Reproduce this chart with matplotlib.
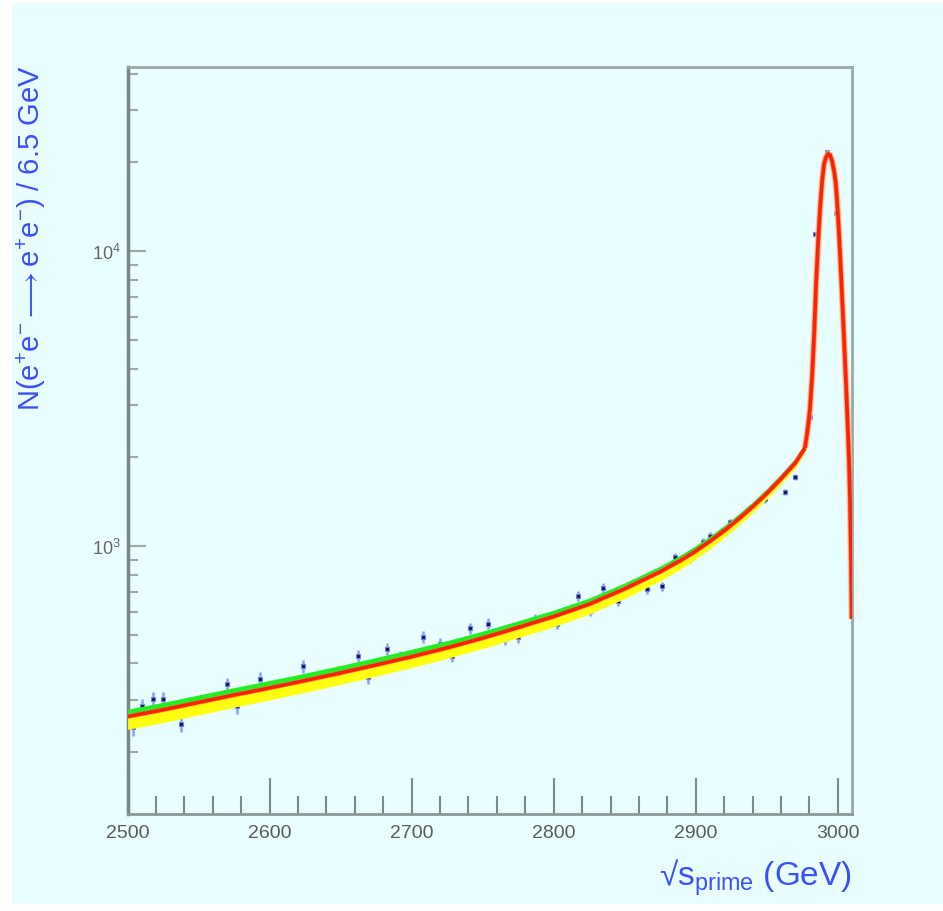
import numpy as np
import matplotlib
matplotlib.use("Agg")
import matplotlib.pyplot as plt
from matplotlib.patches import Rectangle
from matplotlib.ticker import FixedLocator, NullFormatter, FuncFormatter

plt.rcParams['font.family'] = ['Liberation Sans', 'DejaVu Sans']
plt.rcParams['mathtext.fontset'] = 'custom'
plt.rcParams['mathtext.rm'] = 'Liberation Sans'
plt.rcParams['mathtext.it'] = 'Liberation Sans:italic'

# measured points (sqrt(s') in GeV, events per 6.5 GeV bin)
data_x = [2503.8, 2510.1, 2517.9, 2524.9, 2537.6, 2550.5, 2570.0, 2577.0, 2593.2,
          2604.0, 2623.5, 2635.5, 2648.0, 2662.3, 2669.3, 2682.7, 2692.0, 2708.0,
          2720.0, 2728.4, 2741.0, 2753.7, 2765.7, 2775.0, 2787.0, 2802.3, 2817.0,
          2825.6, 2834.7, 2845.3, 2857.0, 2866.0, 2876.2, 2885.4, 2896.0, 2905.3,
          2910.2, 2924.3, 2931.0, 2938.2, 2948.8, 2962.9, 2969.9, 2980.3, 2983.9,
          2992.3, 2998.6]
data_y = [243, 287, 303, 303, 250, 290, 340, 287, 354,
          335, 392, 350, 372, 424, 360, 448, 420, 492,
          465, 424, 527, 545, 484, 492, 566, 545, 677,
          603, 721, 652, 743, 715, 731, 918, 905, 1032,
          1081, 1205, 1240, 1345, 1443, 1524, 1713, 2735, 11430,
          21680, 13460]

# fitted continuum below the peak
fit_x = [2500, 2525, 2550, 2575, 2600, 2625, 2650, 2675, 2700, 2725, 2750, 2775,
         2800, 2825, 2850, 2875, 2890, 2900, 2910, 2920, 2930, 2940, 2950, 2960,
         2970, 2976.9]
fit_y = [264.2, 278.6, 295.1, 312.6, 330.4, 349.9, 371.5, 395.4, 421.7, 451.9, 487.5, 529.7,
         576.8, 635.3, 716.1, 818.4, 897.4, 961.6, 1038, 1127, 1233, 1358, 1507, 1690,
         1910, 2150]

# fitted resonance peak
peak_x = [2976.9, 2978.8, 2980.4, 2982.0, 2983.5, 2984.7, 2986.1, 2987.5, 2988.9, 2990.3,
          2991.7, 2993.1, 2994.6, 2996.0, 2997.4, 2998.4, 2999.4, 3000.5, 3001.6, 3002.6,
          3003.7, 3004.7, 3005.8, 3006.8, 3007.9, 3008.6, 3009.3, 3009.8]
peak_y = [2150, 2493, 2913, 3828, 5443, 7734, 10560, 13880, 17130, 19720,
          20830, 21350, 21150, 20190, 18670, 17270, 15010, 12350, 9774, 7734,
          5975, 4652, 3541, 2697, 1974, 1443, 904, 566]

# relative width of the fit uncertainty band (continuum only)
band_hi = [1.06, 1.06, 1.06, 1.06, 1.06, 1.06, 1.06, 1.06, 1.06, 1.058, 1.056, 1.054,
           1.052, 1.05, 1.048, 1.046, 1.045, 1.044, 1.043, 1.042, 1.041, 1.04, 1.04, 1.04,
           1.04, 1.04]
band_lo = [0.905, 0.905, 0.907, 0.909, 0.911, 0.913, 0.915, 0.917, 0.919, 0.921, 0.922, 0.923,
           0.924, 0.926, 0.928, 0.932, 0.936, 0.94, 0.944, 0.948, 0.952, 0.955, 0.958, 0.96,
           0.962, 0.965]

x_ticks = [2500, 2600, 2700, 2800, 2900, 3000]

bg = '#e9fefe'
fig = plt.figure(figsize=(9.43, 9.12), dpi=100)
fig.patch.set_facecolor('white')
fig.patches.append(Rectangle((12 / 943, 7 / 912), 1, 901 / 912, transform=fig.transFigure,
                             facecolor=bg, edgecolor='none', zorder=-10))

ax = fig.add_axes([127.6 / 943, 1 - 815 / 912, 724.4 / 943, 747 / 912])
ax.set_facecolor(bg)

fx = np.array(fit_x, dtype=float)
fy = np.array(fit_y, dtype=float)
ax.errorbar(data_x, data_y, yerr=np.sqrt(data_y), xerr=1.6, fmt='s', ms=3.2,
            color='#101050', mec='#6a86f0', mew=0.8, ecolor='#86a0ff',
            elinewidth=1.8, capsize=0, zorder=2)
ax.fill_between(fx, fy * np.array(band_lo), fy, color='#ffff10', lw=0, zorder=3)
ax.fill_between(fx, fy, fy * np.array(band_hi), color='#22ee22', lw=0, zorder=3)

ax.plot(peak_x, peak_y, color='#f4c8a0', lw=5, alpha=0.7, zorder=4, solid_capstyle='butt')
for xs, ys in [(fit_x, fit_y), (peak_x, peak_y)]:
    ax.plot(xs, ys, color='#f07050', lw=3.6, alpha=0.6, zorder=5, solid_capstyle='butt')
    ax.plot(xs, ys, color='#ff2200', lw=2.6, zorder=6, solid_capstyle='butt')

ax.set_yscale('log')
ax.set_xlim(2500, 3010)
ax.set_ylim(123.5, 42100)

ax.xaxis.set_major_locator(FixedLocator(x_ticks))
ax.xaxis.set_minor_locator(FixedLocator([v for v in range(2500, 3010, 20) if v % 100]))
ax.yaxis.set_major_locator(FixedLocator([1e3, 1e4]))
ax.yaxis.set_minor_formatter(NullFormatter())
ax.yaxis.set_major_formatter(FuncFormatter(lambda v, p: r'$10^{%d}$' % round(np.log10(v))))

ax.tick_params(axis='x', which='major', direction='in', length=26, width=1.5,
               color='#7d8a8a', labelsize=14, labelcolor='#5a5a5a', pad=7)
ax.tick_params(axis='x', which='minor', direction='in', length=13, width=1.5, color='#7d8a8a')
ax.tick_params(axis='y', which='major', direction='in', length=13, width=1.5,
               color='#9aa8a8', labelsize=13, labelcolor='#666666', pad=5)
ax.tick_params(axis='y', which='minor', direction='in', length=7, width=1.5, color='#9aa8a8')

for side in ['top', 'right']:
    ax.spines[side].set_color('#9aa8a8')
    ax.spines[side].set_linewidth(2)
ax.spines['left'].set_color('#7a8585')
ax.spines['left'].set_linewidth(2.5)
ax.spines['bottom'].set_color('#8a9898')
ax.spines['bottom'].set_linewidth(2)

fig.text(31 / 943, 1 - 65 / 912,
         r'N(e$^{+}$e$^{-}$$\longrightarrow$e$^{+}$e$^{-}$) / 6.5 GeV',
         rotation=90, ha='center', va='top', fontsize=21, color='#3a4fff')
fig.text(852 / 943, 1 - 886 / 912, '√s$_{\\mathrm{prime}}$ (GeV)',
         ha='right', va='baseline', fontsize=24, color='#3a4fff')

fig.savefig('out.png', dpi=100, facecolor=fig.get_facecolor())
